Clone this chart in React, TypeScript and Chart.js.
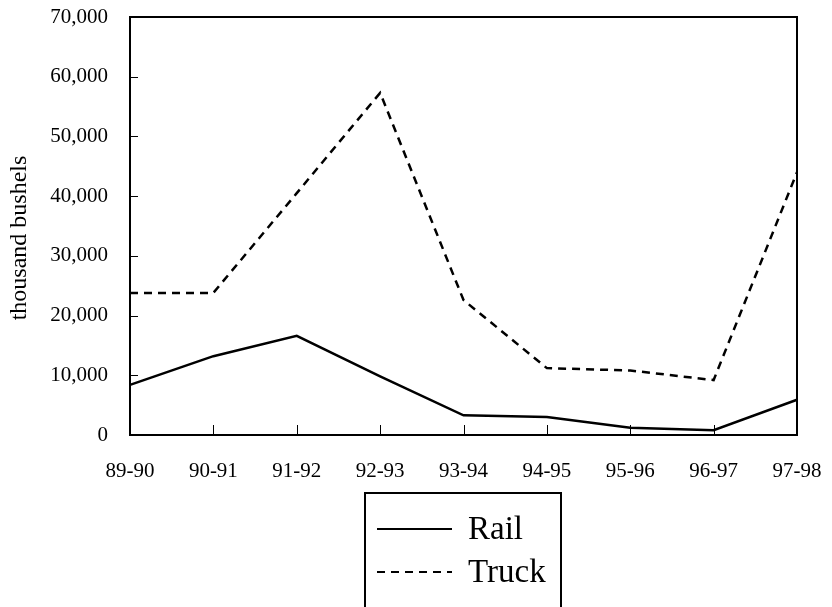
import React, { useEffect, useRef } from 'react';
import { Chart, registerables } from 'chart.js';

Chart.register(...registerables);

const categories = ['89-90', '90-91', '91-92', '92-93', '93-94', '94-95', '95-96', '96-97', '97-98'];
const railValues = [8400, 13200, 16600, 9800, 3300, 3000, 1200, 800, 5900];
const truckValues = [23800, 23800, 40500, 57300, 22600, 11200, 10800, 9200, 44000];
const yTickValues = [0, 10000, 20000, 30000, 40000, 50000, 60000, 70000];
const yAxisTitle = 'thousand bushels';
const seriesNames = ['Rail', 'Truck'];

const SERIF = '"Liberation Serif", "DejaVu Serif", serif';

const framePlugin = {
  id: 'framePlugin',
  afterDraw(chart: any) {
    const { ctx, chartArea } = chart;
    const { left, right, top, bottom } = chartArea;
    const xScale = chart.scales.x;
    const yScale = chart.scales.y;
    ctx.save();
    ctx.strokeStyle = '#000';
    // frame
    ctx.lineWidth = 2;
    ctx.strokeRect(left, top, right - left, bottom - top);
    // inward y ticks
    ctx.lineWidth = 1;
    yTickValues.forEach((v) => {
      if (v === yTickValues[0] || v === yTickValues[yTickValues.length - 1]) return;
      const y = Math.round(yScale.getPixelForValue(v)) + 0.5;
      ctx.beginPath();
      ctx.moveTo(left, y);
      ctx.lineTo(left + 8, y);
      ctx.stroke();
    });
    // inward x ticks
    categories.forEach((_, i) => {
      if (i === 0 || i === categories.length - 1) return;
      const x = Math.round(xScale.getPixelForValue(i)) + 0.5;
      ctx.beginPath();
      ctx.moveTo(x, bottom);
      ctx.lineTo(x, bottom - 10);
      ctx.stroke();
    });
    // y axis title
    ctx.fillStyle = '#000';
    ctx.font = `24px ${SERIF}`;
    ctx.textAlign = 'center';
    ctx.textBaseline = 'middle';
    ctx.translate(20, 238);
    ctx.rotate(-Math.PI / 2);
    ctx.fillText(yAxisTitle, 0, 0);
    ctx.restore();

    // legend box
    ctx.save();
    ctx.strokeStyle = '#000';
    ctx.lineWidth = 2;
    ctx.strokeRect(365, 493, 196, 140);
    const rows = [529, 572];
    chart.data.datasets.forEach((ds: any, i: number) => {
      const y = rows[i];
      ctx.beginPath();
      ctx.lineWidth = 2;
      ctx.setLineDash(ds.borderDash || []);
      ctx.moveTo(377, y);
      ctx.lineTo(452, y);
      ctx.stroke();
      ctx.setLineDash([]);
      ctx.fillStyle = '#000';
      ctx.font = `33px ${SERIF}`;
      ctx.textAlign = 'left';
      ctx.textBaseline = 'middle';
      ctx.fillText(ds.label, 468, y + 1);
    });
    ctx.restore();
  },
};

function zeroPadding(scale: any) {
  scale.paddingTop = 0;
  scale.paddingBottom = 0;
  scale.paddingLeft = 0;
  scale.paddingRight = 0;
}

export default function App() {
  const canvasRef = useRef<HTMLCanvasElement | null>(null);

  useEffect(() => {
    if (!canvasRef.current) return;
    const chart = new Chart(canvasRef.current, {
      type: 'line',
      data: {
        labels: categories,
        datasets: [
          {
            label: seriesNames[0],
            data: railValues,
            borderColor: '#000',
            borderWidth: 2.5,
            pointRadius: 0,
            tension: 0,
            fill: false,
          },
          {
            label: seriesNames[1],
            data: truckValues,
            borderColor: '#000',
            borderWidth: 2.5,
            borderDash: [8, 6],
            pointRadius: 0,
            tension: 0,
            fill: false,
          },
        ],
      },
      options: {
        responsive: false,
        maintainAspectRatio: false,
        animation: false,
        layout: { padding: { top: 17, right: 35, left: 0, bottom: 0 } },
        plugins: {
          legend: { display: false },
          tooltip: { enabled: false },
        },
        scales: {
          x: {
            type: 'category',
            offset: false,
            grid: { display: false, drawTicks: false },
            border: { display: false },
            ticks: {
              color: '#000',
              font: { family: SERIF, size: 21 },
              padding: 24,
              maxRotation: 0,
              autoSkip: false,
            },
            afterFit(scale: any) {
              scale.height = 172;
              zeroPadding(scale);
            },
          },
          y: {
            min: 0,
            max: 70000,
            grid: { display: false, drawTicks: false },
            border: { display: false },
            afterBuildTicks(scale: any) {
              scale.ticks = yTickValues.map((v) => ({ value: v }));
            },
            ticks: {
              color: '#000',
              font: { family: SERIF, size: 21 },
              padding: 22,
              callback: (v: any) => Number(v).toLocaleString('en-US'),
            },
            afterFit(scale: any) {
              scale.width = 130;
              zeroPadding(scale);
            },
          },
        },
      },
      plugins: [framePlugin],
    });
    return () => chart.destroy();
  }, []);

  return (
    <div style={{ position: 'fixed', left: 0, top: 0, width: 832, height: 607, background: '#fff' }}>
      <canvas ref={canvasRef} width={832} height={607} style={{ width: 832, height: 607 }} />
    </div>
  );
}
